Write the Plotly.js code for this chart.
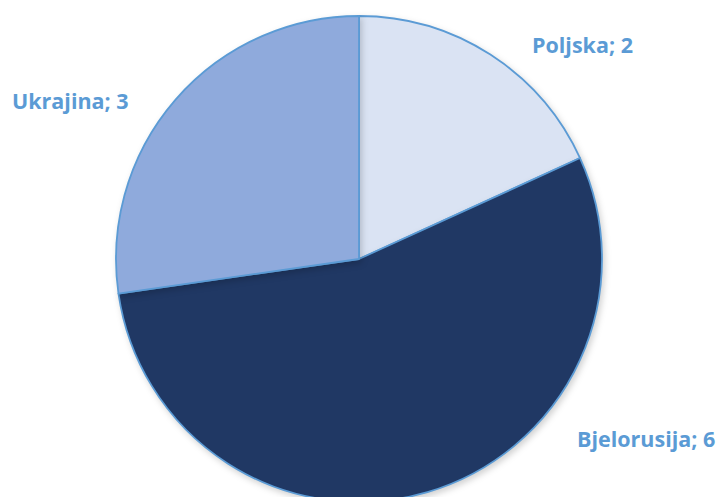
<!DOCTYPE html>
<html>
<head>
<meta charset="utf-8">
<script src="https://cdn.plot.ly/plotly-3.0.1.min.js"></script>
<style>
html,body{margin:0;padding:0;background:#fff;overflow:hidden;width:721px;height:497px;}
#chart{width:721px;height:502px;}
#chart .pielayer .slice path{filter:drop-shadow(2px 3px 3px rgba(0,0,0,0.18));}
</style>
</head>
<body>
<div id="chart"></div>
<script>
var categories = ["Poljska", "Bjelorusija", "Ukrajina"];
var values = [2, 6, 3];
var sliceColors = ["#DAE3F3", "#203864", "#8FAADC"];
var labelX = [582, 646, 70];
var labelY = [44, 438, 100];

var W = 721, H = 502;
var annotations = categories.map(function(c, i){
  return {
    text: "<b>" + c + "; " + values[i] + "</b>",
    x: labelX[i] / W, y: 1 - labelY[i] / H,
    xref: "paper", yref: "paper",
    xanchor: "center", yanchor: "middle",
    showarrow: false,
    font: {family: "'Open Sans', sans-serif", size: 21.5, color: "#5B9BD5"}
  };
});

var data = [{
  type: "pie",
  labels: categories,
  values: values,
  sort: false,
  direction: "clockwise",
  rotation: 0,
  textinfo: "none",
  hoverinfo: "label+value",
  marker: {colors: sliceColors, line: {color: "#5B9BD5", width: 1.8}},
  domain: {x: [116 / W, 602 / W], y: [0, 486 / H]},
  showlegend: false
}];

var layout = {
  width: W, height: H,
  margin: {l: 0, r: 0, t: 0, b: 0},
  paper_bgcolor: "#fff",
  showlegend: false,
  annotations: annotations
};

Plotly.newPlot("chart", data, layout, {displayModeBar: false, staticPlot: true});
</script>
</body>
</html>
